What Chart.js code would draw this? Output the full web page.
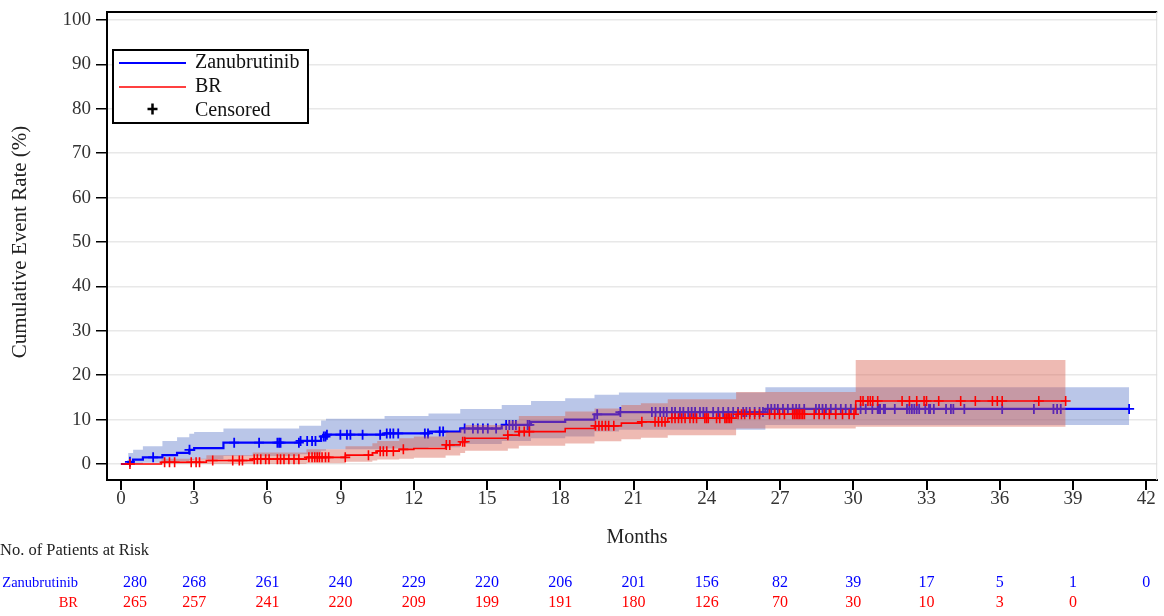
<!DOCTYPE html>
<html>
<head>
<meta charset="utf-8">
<script src="https://cdn.jsdelivr.net/npm/chart.js@4.4.1/dist/chart.umd.min.js"></script>
<style>
  html, body { margin: 0; padding: 0; background: #fff; }
  #wrap { width: 1164px; height: 616px; position: relative; }
</style>
</head>
<body>
<div id="wrap"><canvas id="km" width="1164" height="616"></canvas></div>
<script>
// x ticks (months) and y ticks (%)
const monthTicks = [0, 3, 6, 9, 12, 15, 18, 21, 24, 27, 30, 33, 36, 39, 42];
const rateTicks = [0, 10, 20, 30, 40, 50, 60, 70, 80, 90, 100];

// Zanubrutinib: step times, cumulative event rate and 95% CI
const zanuTime  = [0, 0.3, 0.5, 0.9, 1.7, 2.3, 2.8, 3.0, 4.2, 7.3, 8.2, 8.4, 10.8, 12.6, 13.9, 15.6, 16.8, 18.2, 19.4, 20.4, 26.4, 41.3];
const zanuRate  = [0, 0.5, 1.0, 1.5, 2.0, 2.5, 3.2, 3.6, 4.8, 5.2, 6.2, 6.6, 6.9, 7.3, 8.0, 8.8, 9.5, 10.0, 11.2, 11.7, 12.4, 12.4];
const zanuUpper = [0, 2.5, 3.2, 4.0, 5.2, 6.0, 6.8, 7.2, 8.0, 8.6, 9.8, 10.2, 10.8, 11.4, 12.4, 13.3, 14.2, 14.8, 15.6, 16.1, 17.3, 17.3];
const zanuLower = [0, 0, 0, 0.3, 0.5, 0.7, 0.9, 1.1, 1.8, 2.2, 3.0, 3.3, 3.5, 3.8, 4.5, 5.2, 5.8, 6.2, 7.3, 7.7, 8.8, 8.8];
const zanuCensored = [0.37, 1.32, 2.81, 4.64, 5.66, 6.41, 6.48, 6.54, 7.29, 7.36, 7.63, 7.83, 7.97, 8.31, 8.38, 8.44, 8.99, 9.26, 9.4, 9.9,
  10.62, 10.89, 11.03, 11.16, 11.36, 12.45, 12.58, 13.06, 13.2, 14.08, 14.42, 14.62, 14.83, 15.03, 15.37, 15.78, 15.91, 16.05, 16.18,
  16.66, 16.73, 19.51, 20.46, 21.75, 21.9, 22.09, 22.23, 22.36, 22.57, 22.7, 22.9, 23.04, 23.24, 23.38, 23.52, 23.72, 23.86, 23.99,
  24.26, 24.47, 24.67, 24.88, 25.08, 25.28, 25.49, 25.62, 25.76, 25.96, 26.16, 26.3, 26.5, 26.64, 26.78, 26.91, 27.12, 27.32, 27.52,
  27.66, 27.79, 27.99, 28.47, 28.6, 28.74, 28.88, 29.08, 29.28, 29.49, 29.69, 29.9, 30.1, 30.3, 30.51, 30.78, 31.0, 31.05, 31.1, 31.25,
  31.3, 31.7, 32.2, 32.3, 32.4, 32.5, 32.6, 32.7, 32.95, 33.1, 33.15, 33.3, 33.8, 34.0, 34.1, 34.55, 36.1, 37.4, 38.2, 38.35, 38.5, 41.3];

// BR
const brTime  = [0, 1.66, 3.5, 5.4, 7.6, 9.2, 10.3, 10.5, 11.4, 12.0, 13.3, 13.9, 14.1, 15.85, 16.3, 18.2, 19.4, 20.5, 21.3, 22.4, 25.2, 30.1, 38.7];
const brRate  = [0, 0.4, 0.8, 1.1, 1.5, 2.0, 2.5, 2.9, 3.3, 3.5, 4.3, 5.0, 5.8, 6.5, 7.3, 8.0, 8.6, 9.2, 9.5, 10.3, 11.2, 14.2, 14.2];
const brUpper = [0, 1.2, 2.0, 2.6, 3.3, 4.0, 4.7, 5.2, 5.8, 6.2, 7.2, 8.0, 8.8, 9.8, 10.8, 11.8, 12.5, 13.3, 13.7, 14.6, 16.2, 23.4, 23.4];
const brLower = [0, 0, 0, 0, 0.2, 0.5, 0.8, 1.0, 1.2, 1.4, 1.9, 2.5, 3.0, 3.5, 4.1, 4.6, 5.1, 5.6, 5.9, 6.5, 8.0, 8.4, 8.4];
const brCensored = [0.37, 1.79, 1.99, 2.2, 2.88, 3.08, 3.22, 3.76, 4.58, 4.85, 4.98, 5.46, 5.59, 5.73, 5.93, 6.07, 6.41, 6.54, 6.68,
  6.88, 7.09, 7.29, 7.7, 7.83, 7.94, 8.04, 8.13, 8.24, 8.38, 8.51, 9.19, 10.14, 10.62, 10.75, 10.89, 11.16, 11.57, 13.33, 13.47, 14.0,
  14.08, 15.85, 16.32, 16.52, 16.73, 19.44, 19.58, 19.71, 19.85, 19.98, 20.19, 21.34, 21.88, 22.02, 22.16, 22.29, 22.57, 22.7, 22.84,
  22.97, 23.11, 23.31, 23.45, 23.58, 23.92, 23.99, 24.06, 24.4, 24.53, 24.74, 24.8, 24.87, 24.94, 25.01, 25.28, 25.42, 25.55, 25.76,
  25.96, 26.16, 26.57, 26.78, 26.98, 27.18, 27.52, 27.59, 27.66, 27.73, 27.79, 27.86, 27.93, 28.0, 28.4, 28.6, 28.81, 29.02, 29.28,
  29.56, 29.83, 30.03, 30.3, 30.4, 30.6, 30.7, 30.8, 31.0, 32.0, 32.3, 32.6, 32.9, 33.0, 33.5, 34.4, 35.0, 35.7, 35.9, 36.1, 37.6, 38.7];

// number at risk
const zanuAtRisk = [280, 268, 261, 240, 229, 220, 206, 201, 156, 82, 39, 17, 5, 1, 0];
const brAtRisk   = [265, 257, 241, 220, 209, 199, 191, 180, 126, 70, 30, 10, 3, 0];

const BLUE = '#0000ff';
const RED = '#ff0000';
const SERIF = '"Liberation Serif", "Times New Roman", serif';

function pts(times, vals) {
  return times.map((t, i) => ({ x: t, y: vals[i] }));
}
function stepAt(t, times, vals) {
  let v = vals[0];
  for (let i = 0; i < times.length; i++) {
    if (times[i] <= t) v = vals[i];
  }
  return v;
}
function censorPts(cens, times, vals) {
  return cens.map(t => ({ x: t, y: stepAt(t, times, vals) }));
}

const extras = {
  id: 'extras',
  afterDraw(chart) {
    const ctx = chart.ctx;
    const a = chart.chartArea;
    const xs = chart.scales.x;
    ctx.save();
    // frame top and right
    ctx.strokeStyle = '#000';
    ctx.lineWidth = 2;
    ctx.beginPath();
    ctx.moveTo(a.left - 1, a.top);
    ctx.lineTo(a.right, a.top);
    ctx.stroke();
    ctx.strokeStyle = '#ddd';
    ctx.lineWidth = 1;
    ctx.beginPath();
    ctx.moveTo(a.right - 0.5, a.top);
    ctx.lineTo(a.right - 0.5, a.bottom);
    ctx.stroke();

    // legend box
    ctx.fillStyle = '#fff';
    ctx.fillRect(113, 50, 195, 73);
    ctx.strokeStyle = '#000';
    ctx.lineWidth = 2;
    ctx.strokeRect(113, 50, 195, 73);
    ctx.lineWidth = 2;
    ctx.strokeStyle = BLUE;
    ctx.beginPath(); ctx.moveTo(119, 63); ctx.lineTo(186, 63); ctx.stroke();
    ctx.strokeStyle = RED;
    ctx.lineWidth = 1.5;
    ctx.beginPath(); ctx.moveTo(119, 87); ctx.lineTo(186, 87); ctx.stroke();
    ctx.strokeStyle = '#000';
    ctx.lineWidth = 2.5;
    ctx.beginPath();
    ctx.moveTo(147.5, 109); ctx.lineTo(157.5, 109);
    ctx.moveTo(152.5, 103.5); ctx.lineTo(152.5, 114.5);
    ctx.stroke();
    ctx.fillStyle = '#111';
    ctx.font = '20px ' + SERIF;
    ctx.textAlign = 'left';
    ctx.textBaseline = 'middle';
    ctx.fillText('Zanubrutinib', 195, 63);
    ctx.fillText('BR', 195, 87);
    ctx.fillText('Censored', 195, 111);

    // axis titles
    ctx.font = '20px ' + SERIF;
    ctx.fillStyle = '#222';
    ctx.textAlign = 'center';
    ctx.fillText('Months', 637, 538);
    ctx.save();
    ctx.translate(20, 242);
    ctx.rotate(-Math.PI / 2);
    ctx.font = '21px ' + SERIF;
    ctx.fillText('Cumulative Event Rate (%)', 0, 0);
    ctx.restore();

    // risk table
    ctx.font = '16.5px ' + SERIF;
    ctx.textAlign = 'left';
    ctx.fillStyle = '#222';
    ctx.fillText('No. of Patients at Risk', 0, 551);
    ctx.font = '14.5px ' + SERIF;
    ctx.textAlign = 'right';
    ctx.fillStyle = BLUE;
    ctx.fillText('Zanubrutinib', 78, 583);
    ctx.fillStyle = RED;
    ctx.fillText('BR', 78, 603);
    ctx.font = '16px ' + SERIF;
    const rows = [[zanuAtRisk, BLUE, 583], [brAtRisk, RED, 603]];
    rows.forEach(([vals, col, y]) => {
      ctx.fillStyle = col;
      vals.forEach((n, i) => {
        const px = xs.getPixelForValue(monthTicks[i]);
        if (i === 0) {
          ctx.textAlign = 'left';
          ctx.fillText(String(n), px + 2, y);
        } else {
          ctx.textAlign = 'center';
          ctx.fillText(String(n), px, y);
        }
      });
    });
    ctx.restore();
  }
};

const lineBase = { pointRadius: 0, stepped: true, fill: false };

const datasets = [
  // BR drawn on top (lower index = drawn later)
  { data: censorPts(brCensored, brTime, brRate), showLine: false, pointStyle: 'cross', pointRadius: 5,
    pointBorderWidth: 1.6, borderColor: RED, backgroundColor: RED },
  { ...lineBase, data: pts(brTime, brRate), borderColor: RED, borderWidth: 1.6 },
  { ...lineBase, data: pts(brTime, brUpper), borderWidth: 0, borderColor: 'rgba(0,0,0,0)',
    fill: '+1', backgroundColor: 'rgba(215,90,75,0.42)' },
  { ...lineBase, data: pts(brTime, brLower), borderWidth: 0, borderColor: 'rgba(0,0,0,0)' },
  { data: censorPts(zanuCensored, zanuTime, zanuRate), showLine: false, pointStyle: 'cross', pointRadius: 5,
    pointBorderWidth: 1.8, borderColor: BLUE, backgroundColor: BLUE },
  { ...lineBase, data: pts(zanuTime, zanuRate), borderColor: BLUE, borderWidth: 2.2 },
  { ...lineBase, data: pts(zanuTime, zanuUpper), borderWidth: 0, borderColor: 'rgba(0,0,0,0)',
    fill: '+1', backgroundColor: 'rgba(90,120,200,0.42)' },
  { ...lineBase, data: pts(zanuTime, zanuLower), borderWidth: 0, borderColor: 'rgba(0,0,0,0)' }
];

new Chart(document.getElementById('km'), {
  type: 'line',
  data: { datasets: datasets },
  options: {
    responsive: false,
    devicePixelRatio: 1,
    animation: false,
    layout: { padding: { top: 12, right: 2, left: 0, bottom: 0 } },
    plugins: { legend: { display: false }, tooltip: { enabled: false } },
    scales: {
      x: {
        type: 'linear',
        min: -0.57,
        max: 42.45,
        afterBuildTicks: s => { s.ticks = monthTicks.map(v => ({ value: v })); },
        afterFit: s => { s.height = 136; s.paddingLeft = 0; s.paddingRight = 0; },
        grid: { drawOnChartArea: false, tickLength: 10, tickColor: '#000', lineWidth: 2 },
        border: { color: '#000', width: 2 },
        ticks: { font: { family: SERIF, size: 19 }, color: '#333', padding: -2, maxRotation: 0, autoSkip: false }
      },
      y: {
        min: -3.6,
        max: 101.8,
        afterBuildTicks: s => { s.ticks = rateTicks.map(v => ({ value: v })); },
        afterFit: s => { s.width = 107; s.paddingTop = 0; s.paddingBottom = 0; },
        grid: { color: '#e8e8e8', tickColor: '#000', tickLength: 11, lineWidth: 1.5 },
        border: { color: '#000', width: 2 },
        ticks: { font: { family: SERIF, size: 19 }, color: '#333', padding: 5 }
      }
    }
  },
  plugins: [extras]
});
</script>
</body>
</html>
